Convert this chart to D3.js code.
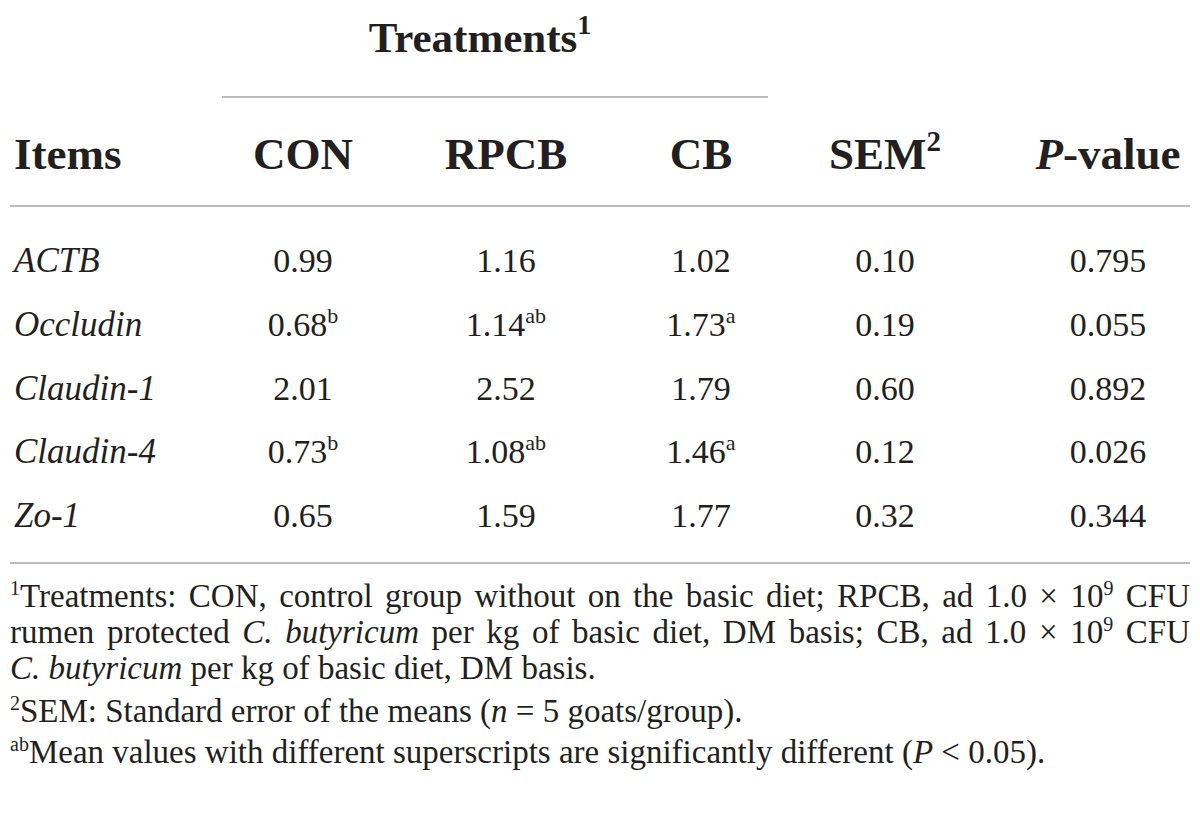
<!DOCTYPE html>
<html>
<head>
<meta charset="utf-8">
<script src="https://cdn.jsdelivr.net/npm/d3@7"></script>
<style>
  html, body { margin: 0; padding: 0; background: #fff; }
  svg { display: block; }
</style>
</head>
<body>
<svg id="chart" width="1200" height="823"></svg>
<script>
// ---------------- DATA ----------------
const items   = ["ACTB", "Occludin", "Claudin-1", "Claudin-4", "Zo-1"];
const conVals  = ["0.99", "0.68", "2.01", "0.73", "0.65"];
const conSup   = ["", "b", "", "b", ""];
const rpcbVals = ["1.16", "1.14", "2.52", "1.08", "1.59"];
const rpcbSup  = ["", "ab", "", "ab", ""];
const cbVals   = ["1.02", "1.73", "1.79", "1.46", "1.77"];
const cbSup    = ["", "a", "", "a", ""];
const semVals  = ["0.10", "0.19", "0.60", "0.12", "0.32"];
const pVals    = ["0.795", "0.055", "0.892", "0.026", "0.344"];
const columns  = ["Items", "CON", "RPCB", "CB", "SEM", "P-value"];
const groupHeader = "Treatments";

// footnote lines: segments [text, style]  style: n normal, i italic, s superscript
const footnotes = [
  { segs: [["1","s"],["Treatments: CON, control group without on the basic diet; RPCB, ad 1.0 × 10","n"],["9","s"],[" CFU","n"]], justify: true },
  { segs: [["rumen protected ","n"],["C. butyricum","i"],[" per kg of basic diet, DM basis; CB, ad 1.0 × 10","n"],["9","s"],[" CFU","n"]], justify: true },
  { segs: [["C. butyricum","i"],[" per kg of basic diet, DM basis.","n"]], justify: false },
  { segs: [["2","s"],["SEM: Standard error of the means (","n"],["n","i"],[" = 5 goats/group).","n"]], justify: false },
  { segs: [["ab","s"],["Mean values with different superscripts are significantly different (","n"],["P","i"],[" < 0.05).","n"]], justify: false }
];

// ---------------- DRAW ----------------
const svg = d3.select("#chart");
const FONT = "'Liberation Serif', 'Times New Roman', serif";
const INK = "#231f20";
const RULE = "#bdbdbd";

const xCol = d3.scaleOrdinal()
  .domain(["CON", "RPCB", "CB", "SEM", "P-value"])
  .range([303, 506, 701, 885, 1108]);

const yRow = d3.scalePoint()
  .domain(items)
  .range([272, 527]);

const yFoot = d3.scaleOrdinal()
  .domain(d3.range(footnotes.length))
  .range([607, 643, 679, 722, 763]);

// rules
const rules = [
  { x1: 222, x2: 768, y: 97 },
  { x1: 10, x2: 1190, y: 206 },
  { x1: 10, x2: 1190, y: 563 }
];
svg.selectAll("line.rule").data(rules).join("line")
  .attr("class", "rule")
  .attr("x1", d => d.x1).attr("x2", d => d.x2)
  .attr("y1", d => d.y).attr("y2", d => d.y)
  .attr("stroke", RULE).attr("stroke-width", 2);

// group header
const th = svg.append("text")
  .attr("x", 480).attr("y", 52)
  .attr("text-anchor", "middle")
  .attr("font-family", FONT).attr("font-weight", "bold")
  .attr("font-size", 43).attr("fill", INK);
th.append("tspan").text(groupHeader);
th.append("tspan").attr("font-size", 28).attr("dy", -18).text("1");

// column header
const HDR = 45;
const headY = 169;
svg.append("text")
  .attr("x", 14).attr("y", headY)
  .attr("font-family", FONT).attr("font-weight", "bold")
  .attr("font-size", HDR).attr("fill", INK)
  .text(columns[0]);

const hdrs = [
  { key: "CON", parts: [["CON", "n"]] },
  { key: "RPCB", parts: [["RPCB", "n"]] },
  { key: "CB", parts: [["CB", "n"]] },
  { key: "SEM", parts: [["SEM", "n"], ["2", "s"]] },
  { key: "P-value", parts: [["P", "i"], ["-value", "n"]] }
];
hdrs.forEach(h => {
  const t = svg.append("text")
    .attr("x", xCol(h.key)).attr("y", headY)
    .attr("text-anchor", "middle")
    .attr("font-family", FONT).attr("font-weight", "bold")
    .attr("font-size", HDR).attr("fill", INK);
  h.parts.forEach(p => {
    const ts = t.append("tspan").text(p[0]);
    if (p[1] === "s") ts.attr("font-size", 29).attr("dy", -18);
    if (p[1] === "i") ts.attr("font-style", "italic");
  });
});

// body rows
const BODY = 34;
items.forEach((it, i) => {
  const y = yRow(it);
  svg.append("text")
    .attr("x", 14).attr("y", y)
    .attr("font-family", FONT).attr("font-style", "italic")
    .attr("font-size", 35).attr("fill", INK)
    .text(it);
  const cells = [
    ["CON", conVals[i], conSup[i]],
    ["RPCB", rpcbVals[i], rpcbSup[i]],
    ["CB", cbVals[i], cbSup[i]],
    ["SEM", semVals[i], ""],
    ["P-value", pVals[i], ""]
  ];
  cells.forEach(c => {
    const t = svg.append("text")
      .attr("x", xCol(c[0])).attr("y", y)
      .attr("text-anchor", "middle")
      .attr("font-family", FONT)
      .attr("font-size", BODY).attr("fill", INK);
    t.append("tspan").text(c[1]);
    if (c[2]) t.append("tspan").attr("font-size", 22).attr("dy", -13).text(c[2]);
  });
});

// footnotes
const FN = 33;
footnotes.forEach((f, i) => {
  const t = svg.append("text")
    .attr("x", 10).attr("y", yFoot(i))
    .attr("font-family", FONT)
    .attr("font-size", FN).attr("fill", INK)
    .attr("xml:space", "preserve")
    .style("white-space", "pre");
  let raised = false;
  f.segs.forEach(s => {
    const ts = t.append("tspan").text(s[0]);
    if (s[1] === "s") {
      ts.attr("font-size", 20).attr("dy", raised ? 0 : -12);
      raised = true;
    } else {
      if (raised) { ts.attr("dy", 12); raised = false; }
      if (s[1] === "i") ts.attr("font-style", "italic");
    }
  });
  if (f.justify) {
    const full = f.segs.map(s => s[0]).join("");
    const nSpaces = (full.match(/ /g) || []).length;
    const len = t.node().getComputedTextLength();
    const extra = (1190 - 10 - len) / nSpaces;
    t.style("word-spacing", extra + "px");
  }
});
</script>
</body>
</html>
